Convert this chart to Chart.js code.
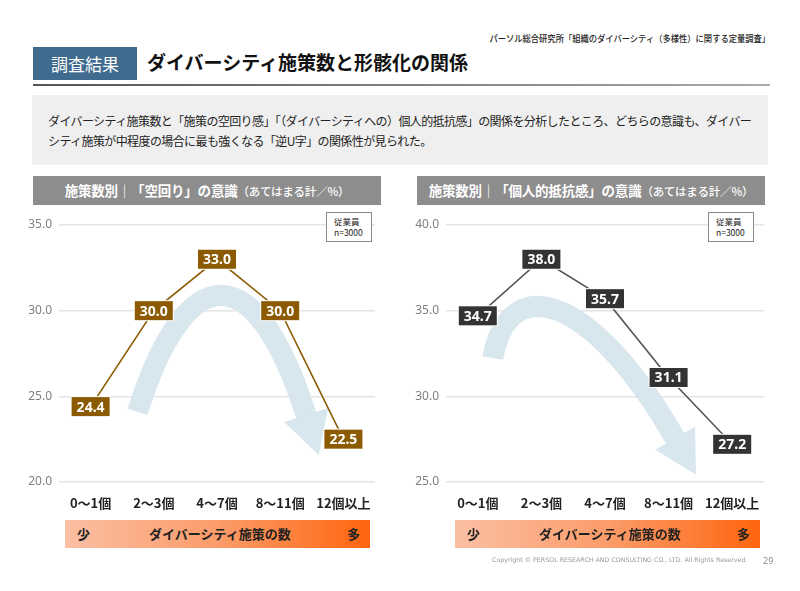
<!DOCTYPE html>
<html lang="ja">
<head>
<meta charset="utf-8">
<script src="https://cdn.jsdelivr.net/npm/chart.js@4.4.1/dist/chart.umd.min.js"></script>
<style>
  html, body { margin:0; padding:0; background:#fff; }
  body { width:800px; height:591px; position:relative; overflow:hidden; font-family:"Noto Sans CJK JP","Noto Sans",sans-serif; }
  .abs { position:absolute; }
  #source { right:30px; top:32px; font-size:9px; color:#222; white-space:nowrap; transform:scaleX(0.92); transform-origin:right center; font-weight:500; }
  #tag { left:33px; top:47px; width:104px; height:33px; background:#3f6b8f; color:#fff; font-size:17px; line-height:33px; text-align:center; }
  #title { left:147px; top:44px; font-size:19px; font-weight:700; color:#111; line-height:36px; white-space:nowrap; }
  #rule { left:33px; top:84px; width:737px; height:2px; background:linear-gradient(to right,#555,#888 60%,#aaa); }
  #desc { left:32px; top:95px; width:736px; height:70px; background:#efefef; }
  #desc div { position:absolute; left:16px; font-size:12px; letter-spacing:-0.6px; color:#222; white-space:nowrap; }
  .ptitle { top:176px; height:29px; background:#8d8d8d; color:#fff; font-weight:700; font-size:13.5px; line-height:29px; text-align:center; white-space:nowrap; letter-spacing:-0.2px; }
  .ptitle small { font-size:11.5px; font-weight:500; }
  .nbox { top:212px; width:46px; height:30px; background:#fff; border:1px solid #8a8a8a; box-sizing:border-box; font-size:8.5px; line-height:11px; padding:3px 0 0 7px; color:#222; }
  .bar { top:520px; height:28px; background:linear-gradient(to right,#fbbfa3,#fb9c6a 50%,#ff650e); font-weight:700; font-size:13px; color:#222; line-height:28px; }
  .bar span { position:absolute; }
  #copy { left:492px; top:556px; font-size:6.3px; color:#999; font-family:"DejaVu Sans",sans-serif; white-space:nowrap; }
  #page { left:763px; top:554px; font-size:9px; color:#888; font-family:"Noto Sans",sans-serif; }
  canvas { position:absolute; }
</style>
</head>
<body>
<div id="source" class="abs">パーソル総合研究所「組織のダイバーシティ（多様性）に関する定量調査」</div>
<div id="tag" class="abs">調査結果</div>
<div id="title" class="abs">ダイバーシティ施策数と形骸化の関係</div>
<div id="rule" class="abs"></div>
<div id="desc" class="abs">
  <div style="top:17px">ダイバーシティ施策数と「施策の空回り感」「（ダイバーシティへの）個人的抵抗感」の関係を分析したところ、どちらの意識も、ダイバー</div>
  <div style="top:37px">シティ施策が中程度の場合に最も強くなる「逆U字」の関係性が見られた。</div>
</div>
<div class="abs ptitle" style="left:33px;width:348px">施策数別｜「空回り」の意識<small>（あてはまる計／%）</small></div>
<div class="abs ptitle" style="left:417px;width:348px">施策数別｜「個人的抵抗感」の意識<small>（あてはまる計／%）</small></div>

<canvas id="c1" width="390" height="330" style="left:0px;top:200px"></canvas>
<canvas id="c2" width="390" height="330" style="left:385px;top:200px"></canvas>

<div class="abs nbox" style="left:326px">従業員<br>n=3000</div>
<div class="abs nbox" style="left:708px">従業員<br>n=3000</div>

<div class="abs bar" style="left:65px;width:305px"><span style="left:12px">少</span><span style="left:84px">ダイバーシティ施策の数</span><span style="right:10px">多</span></div>
<div class="abs bar" style="left:455px;width:305px"><span style="left:12px">少</span><span style="left:84px">ダイバーシティ施策の数</span><span style="right:10px">多</span></div>

<div id="copy" class="abs">Copyright © PERSOL RESEARCH AND CONSULTING CO., LTD. All Rights Reserved.</div>
<div id="page" class="abs">29</div>

<script>
// ---- data ----
const categories = ['0～1個', '2～3個', '4～7個', '8～11個', '12個以上'];
const kuumawariValues = [24.4, 30.0, 33.0, 30.0, 22.5];   // 「空回り」の意識
const teikoValues = [34.7, 38.0, 35.7, 31.1, 27.2];       // 「個人的抵抗感」の意識
const leftTicks = [20, 25, 30, 35];
const rightTicks = [25, 30, 35, 40];

// ---- decorative curved arrow (drawn in scale units) ----
const arrowPlugin = {
  id: 'bigArrow',
  beforeDatasetsDraw(chart, args, opts) {
    const xs = chart.scales.x, ys = chart.scales.y, ctx = chart.ctx;
    const P = p => ({ x: xs.getPixelForValue(p[0]), y: ys.getPixelForValue(p[1]) });
    const [p0, c1, c2, p3] = opts.path.map(P);
    ctx.save();
    ctx.strokeStyle = opts.color;
    ctx.fillStyle = opts.color;
    ctx.lineWidth = opts.width;
    ctx.lineCap = 'butt';
    ctx.beginPath();
    ctx.moveTo(p0.x, p0.y);
    ctx.bezierCurveTo(c1.x, c1.y, c2.x, c2.y, p3.x, p3.y);
    ctx.stroke();
    let dx = p3.x - c2.x, dy = p3.y - c2.y;
    const L = Math.hypot(dx, dy); dx /= L; dy /= L;
    const nx = -dy, ny = dx;
    ctx.beginPath();
    ctx.moveTo(p3.x - dx * 2 + nx * opts.headHalf, p3.y - dy * 2 + ny * opts.headHalf);
    ctx.lineTo(p3.x + dx * opts.headLen, p3.y + dy * opts.headLen);
    ctx.lineTo(p3.x - dx * 2 - nx * opts.headHalf, p3.y - dy * 2 - ny * opts.headHalf);
    ctx.closePath();
    ctx.fill();
    ctx.restore();
  }
};

// ---- value label boxes ----
const labelPlugin = {
  id: 'boxLabels',
  afterDatasetsDraw(chart, args, opts) {
    const ctx = chart.ctx;
    const meta = chart.getDatasetMeta(0);
    const data = chart.data.datasets[0].data;
    ctx.save();
    ctx.font = 'bold 14px "Noto Sans", sans-serif';
    ctx.textAlign = 'center';
    ctx.textBaseline = 'middle';
    meta.data.forEach((pt, i) => {
      const txt = data[i].toFixed(1);
      const w = 38, h = 19;
      ctx.fillStyle = '#ffffff';
      ctx.fillRect(pt.x - w / 2 - 1, pt.y - h / 2 - 1, w + 2, h + 2);
      ctx.fillStyle = opts.bg;
      ctx.fillRect(pt.x - w / 2, pt.y - h / 2, w, h);
      ctx.fillStyle = '#ffffff';
      ctx.fillText(txt, pt.x, pt.y + 1);
    });
    ctx.restore();
  }
};

function makeChart(id, values, ticks, lineColor, boxColor, padRight, yWidth, arrow) {
  return new Chart(document.getElementById(id), {
    type: 'line',
    data: {
      labels: categories,
      datasets: [{
        data: values,
        borderColor: lineColor,
        borderWidth: 1.6,
        pointRadius: 0,
        tension: 0,
        fill: false
      }]
    },
    options: {
      responsive: false,
      devicePixelRatio: 1,
      animation: false,
      layout: { padding: { left: 0, right: padRight, top: 25, bottom: 8 } },
      plugins: {
        legend: { display: false },
        tooltip: { enabled: false },
        boxLabels: { bg: boxColor },
        bigArrow: arrow
      },
      scales: {
        x: {
          offset: true,
          grid: { display: false },
          border: { display: false },
          ticks: { color: '#222', padding: 5, font: { family: '"Noto Sans CJK JP", sans-serif', size: 13, weight: 'bold' } },
          afterFit: s => { s.height = 40; }
        },
        y: {
          min: ticks[0],
          max: ticks[ticks.length - 1],
          afterBuildTicks: s => { s.ticks = ticks.map(v => ({ value: v })); },
          grid: { color: '#e4e4e4', lineWidth: 1.5, drawTicks: false },
          border: { display: false },
          ticks: { color: '#7f7f7f', padding: 7, font: { family: '"Noto Sans", sans-serif', size: 12 }, callback: v => Number(v).toFixed(1) },
          afterFit: s => { s.width = yWidth; }
        }
      }
    },
    plugins: [arrowPlugin, labelPlugin]
  });
}

makeChart('c1', kuumawariValues, leftTicks, '#8c5c04', '#8c5a00', 15, 59, {
  color: '#d8e6ee', width: 21, headHalf: 23, headLen: 40,
  path: [[0.743, 24.09], [1.5, 33.0], [2.6, 33.4], [3.42, 23.8]]
});
makeChart('c2', teikoValues, rightTicks, '#555555', '#333333', 11, 61, {
  color: '#d8e6ee', width: 21, headHalf: 23, headLen: 40,
  path: [[0.236, 32.24], [0.472, 37.26], [1.764, 36.21], [3.118, 27.45]]
});
</script>
</body>
</html>
